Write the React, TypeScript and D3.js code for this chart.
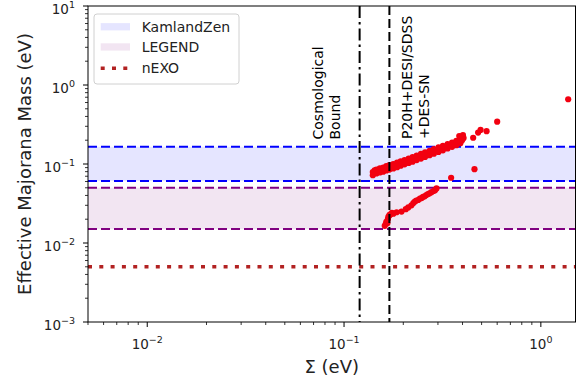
import React from 'react';
import * as d3 from 'd3';

const W = 583;
const H = 383;

// ---- data ----
const xDomain = [0.005, 1.5];
const yDomain = [1e-3, 10];
const xMajor = [0.01, 0.1, 1];
const xMajorExp = ['−2', '−1', '0'];
const yMajor = [1e-3, 1e-2, 1e-1, 1, 10];
const yMajorExp = ['−3', '−2', '−1', '0', '1'];

const kamlandZen = [0.061, 0.165];
const legendBand = [0.015, 0.05];
const nexoLimit = 0.005;
const cosmoBound = 0.12;
const desiBound = 0.17;

const legendLabels = ['KamlandZen', 'LEGEND', 'nEXO'];
const annotCosmo = ['Cosmological', 'Bound'];
const annotDesi = ['P20H+DESI/SDSS', '+DES-SN'];

const upperSigma = [
  0.140, 0.140, 0.143, 0.146, 0.146, 0.149, 0.152, 0.152, 0.155, 0.158,
  0.158, 0.161, 0.164, 0.164, 0.167, 0.170, 0.170, 0.174, 0.178, 0.178,
  0.182, 0.186, 0.186, 0.190, 0.194, 0.194, 0.198, 0.203, 0.203, 0.208,
  0.213, 0.213, 0.218, 0.223, 0.223, 0.228, 0.234, 0.234, 0.240, 0.246,
  0.246, 0.252, 0.258, 0.258, 0.265, 0.272, 0.272, 0.279, 0.286, 0.286,
  0.294, 0.302, 0.302, 0.310, 0.318, 0.318, 0.327, 0.336, 0.336, 0.345,
  0.354, 0.354, 0.363, 0.372, 0.372, 0.381, 0.390, 0.390, 0.398, 0.398,
  0.405, 0.402, 0.385,
];
const upperMbb = [
  0.072, 0.079, 0.083, 0.076, 0.085, 0.081, 0.078, 0.088, 0.084, 0.080,
  0.090, 0.087, 0.083, 0.094, 0.089, 0.085, 0.097, 0.093, 0.088, 0.100,
  0.096, 0.091, 0.104, 0.099, 0.095, 0.108, 0.103, 0.099, 0.112, 0.106,
  0.103, 0.117, 0.111, 0.107, 0.122, 0.116, 0.112, 0.128, 0.121, 0.117,
  0.134, 0.127, 0.123, 0.140, 0.133, 0.129, 0.147, 0.140, 0.135, 0.154,
  0.147, 0.142, 0.162, 0.154, 0.149, 0.170, 0.162, 0.157, 0.178, 0.170,
  0.165, 0.187, 0.178, 0.173, 0.197, 0.188, 0.183, 0.210, 0.200, 0.222,
  0.213, 0.232, 0.226,
];

const lowerSigma = [
  0.161, 0.163, 0.164, 0.166, 0.167, 0.168, 0.170, 0.172, 0.175, 0.178,
  0.185, 0.196, 0.206, 0.212, 0.220, 0.225, 0.229, 0.233, 0.238, 0.243,
  0.248, 0.252, 0.257, 0.262, 0.267, 0.272, 0.278, 0.285, 0.290, 0.295,
];
const lowerMbb = [
  0.0165, 0.0175, 0.0185, 0.0178, 0.0200, 0.0215, 0.0225, 0.0230, 0.0240, 0.0235,
  0.0245, 0.0250, 0.0268, 0.0282, 0.0300, 0.0320, 0.0335, 0.0345, 0.0350, 0.0365,
  0.0370, 0.0385, 0.0390, 0.0405, 0.0417, 0.0425, 0.0440, 0.0455, 0.0465, 0.0490,
];

const outlierSigma = [0.453, 0.48, 0.494, 0.53, 0.60, 1.377, 0.46, 0.35];
const outlierMbb = [0.215, 0.25, 0.27, 0.26, 0.343, 0.66, 0.086, 0.067];

// ---- layout ----
const plot = { left: 88, right: 575.5, top: 6, bottom: 322 };
const FONT = 'DejaVu Sans, sans-serif';

export default function App() {
  const x = d3.scaleLog().domain(xDomain).range([plot.left, plot.right]);
  const y = d3.scaleLog().domain(yDomain).range([plot.bottom, plot.top]);

  const xMinor: number[] = [];
  for (let e = -3; e <= 0; e++) {
    for (let k = 2; k <= 9; k++) {
      const v = k * Math.pow(10, e);
      if (v >= xDomain[0] && v <= xDomain[1]) xMinor.push(v);
    }
  }
  const yMinor: number[] = [];
  for (let e = -3; e <= 0; e++) {
    for (let k = 2; k <= 9; k++) yMinor.push(k * Math.pow(10, e));
  }

  const points: [number, number][] = [];
  upperSigma.forEach((s, i) => points.push([s, upperMbb[i]]));
  lowerSigma.forEach((s, i) => points.push([s, lowerMbb[i]]));
  outlierSigma.forEach((s, i) => points.push([s, outlierMbb[i]]));

  const hLine = (v: number, color: string, dash: string, width: number, key: string) => (
    <line key={key} x1={plot.left} x2={plot.right} y1={y(v)} y2={y(v)}
      stroke={color} strokeWidth={width} strokeDasharray={dash} />
  );

  const legendX = 94, legendY = 14, legendW = 145, legendH = 70;
  const rowBase = [31.5, 51.7, 73];

  return (
    <svg width={W} height={H} style={{ position: 'absolute', left: 0, top: 0, background: '#fff' }}
      fontFamily={FONT}>
      <rect x={0} y={0} width={W} height={H} fill="#fff" />
      {/* bands */}
      <rect x={plot.left} width={plot.right - plot.left}
        y={y(kamlandZen[1])} height={y(kamlandZen[0]) - y(kamlandZen[1])}
        fill="#0000ff" fillOpacity={0.1} />
      <rect x={plot.left} width={plot.right - plot.left}
        y={y(legendBand[1])} height={y(legendBand[0]) - y(legendBand[1])}
        fill="#800080" fillOpacity={0.1} />
      {hLine(kamlandZen[1], '#0000ff', '9,4', 2, 'k1')}
      {hLine(kamlandZen[0], '#0000ff', '9,4', 2, 'k0')}
      {hLine(legendBand[1], '#800080', '9,4', 2, 'l1')}
      {hLine(legendBand[0], '#800080', '9,4', 2, 'l0')}
      {hLine(nexoLimit, '#b22222', '4,7.3', 3.5, 'n')}

      {/* scatter */}
      {points.map((p, i) => (
        <circle key={i} cx={x(p[0])} cy={y(p[1])} r={3.1} fill="#f20010" />
      ))}

      {/* vertical bounds */}
      <line x1={x(cosmoBound)} x2={x(cosmoBound)} y1={plot.top} y2={plot.bottom}
        stroke="#000" strokeWidth={2} strokeDasharray="12,4,2.5,4" />
      <line x1={x(desiBound)} x2={x(desiBound)} y1={plot.top} y2={plot.bottom}
        stroke="#000" strokeWidth={2} strokeDasharray="9,4" />

      {/* annotations */}
      {annotCosmo.map((t, i) => (
        <text key={'c' + i} transform={`translate(${323 + i * 17},139.5) rotate(-90)`}
          fontSize={14} fill="#000">{t}</text>
      ))}
      {annotDesi.map((t, i) => (
        <text key={'d' + i} transform={`translate(${411.5 + i * 17},139) rotate(-90)`}
          fontSize={14} fill="#000">{t}</text>
      ))}

      {/* axes frame */}
      <rect x={plot.left} y={plot.top} width={plot.right - plot.left} height={plot.bottom - plot.top}
        fill="none" stroke="#000" strokeWidth={1} />

      {/* x ticks */}
      {xMinor.map((v, i) => (
        <line key={'xm' + i} x1={x(v)} x2={x(v)} y1={plot.bottom} y2={plot.bottom + 3}
          stroke="#000" strokeWidth={0.8} />
      ))}
      {xMajor.map((v, i) => (
        <g key={'xM' + i}>
          <line x1={x(v)} x2={x(v)} y1={plot.bottom} y2={plot.bottom + 5} stroke="#000" strokeWidth={1} />
          <text x={x(v)} y={349} textAnchor="middle" fontSize={13.5} fill="#222">
            10<tspan fontSize={9.5} dy={-6}>{xMajorExp[i]}</tspan>
          </text>
        </g>
      ))}
      {/* y ticks */}
      {yMinor.map((v, i) => (
        <line key={'ym' + i} x1={plot.left - 3} x2={plot.left} y1={y(v)} y2={y(v)}
          stroke="#000" strokeWidth={0.8} />
      ))}
      {yMajor.map((v, i) => (
        <g key={'yM' + i}>
          <line x1={plot.left - 5} x2={plot.left} y1={y(v)} y2={y(v)} stroke="#000" strokeWidth={1} />
          <text x={75} y={y(v) + 7.5} textAnchor="end" fontSize={13.5} fill="#222">
            10<tspan fontSize={9.5} dy={-6}>{yMajorExp[i]}</tspan>
          </text>
        </g>
      ))}

      {/* axis labels */}
      <text x={(plot.left + plot.right) / 2} y={373} textAnchor="middle" fontSize={18} fill="#222">Σ (eV)</text>
      <text transform={`translate(31,${(plot.top + plot.bottom) / 2}) rotate(-90)`} textAnchor="middle"
        fontSize={18} fill="#222">Effective Majorana Mass (eV)</text>

      {/* legend */}
      <rect x={legendX} y={legendY} width={legendW} height={legendH} rx={3}
        fill="#fff" fillOpacity={0.8} stroke="#d0d0d0" strokeWidth={1} />
      <rect x={100.7} y={rowBase[0] - 8.4} width={29.3} height={7.3} fill="#0000ff" fillOpacity={0.1} />
      <rect x={100.7} y={rowBase[1] - 8.4} width={29.3} height={7.3} fill="#800080" fillOpacity={0.1} />
      <line x1={100.7} x2={130} y1={rowBase[2] - 4.8} y2={rowBase[2] - 4.8}
        stroke="#b22222" strokeWidth={3.5} strokeDasharray="4,7.3" />
      {legendLabels.map((t, i) => (
        <text key={'lg' + i} x={141.7} y={rowBase[i]} fontSize={14} fill="#222">{t}</text>
      ))}
    </svg>
  );
}
